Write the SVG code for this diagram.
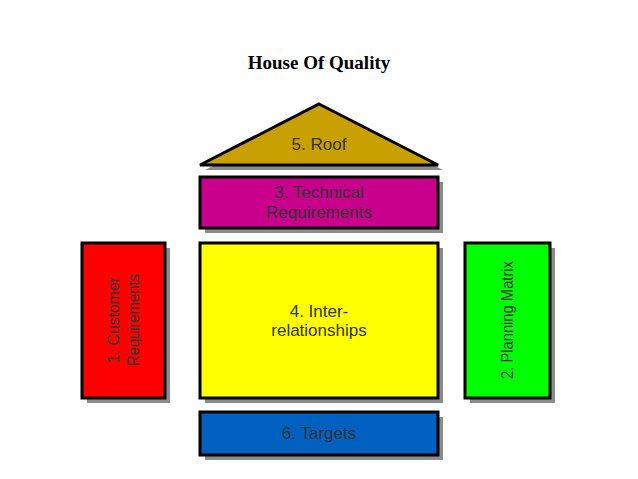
<svg xmlns="http://www.w3.org/2000/svg" width="638" height="479" viewBox="0 0 638 479">
<style>
.b{stroke:#000;stroke-width:3}
.s{fill:#8c8c8c}
.t{font-family:"Liberation Sans",Arial,sans-serif;font-size:17px;fill:#333;text-anchor:middle}
</style>
<rect width="638" height="479" fill="#fff"/>
<text x="319" y="69" font-family="Liberation Serif,serif" font-weight="bold" font-size="19" text-anchor="middle">House Of Quality</text>
<g id="roof"><polygon class="s" points="324,109 443,170 205,170"/><polygon class="b" fill="#c8a000" points="319,104 438,165 200,165"/><text class="t" x="319" y="150">5. Roof</text></g>
<g id="tech"><rect class="s" x="205" y="182" width="238" height="51"/><rect class="b" fill="#c8008c" x="200" y="177" width="238" height="51"/><text class="t" x="319" y="198">3. Technical</text><text class="t" x="319" y="218">Requirements</text></g>
<g id="customer"><rect class="s" x="87" y="248" width="83" height="155"/><rect class="b" fill="#ff0000" x="82" y="243" width="83" height="155"/><g transform="translate(123,320) rotate(-90)"><text class="t" x="0" y="-4" textLength="86" lengthAdjust="spacingAndGlyphs">1. Customer</text><text class="t" x="0" y="16" textLength="92" lengthAdjust="spacingAndGlyphs">Requirements</text></g></g>
<g id="inter"><rect class="s" x="205" y="248" width="238" height="155"/><rect class="b" fill="#ffff00" x="200" y="243" width="238" height="155"/><text class="t" x="319" y="317">4. Inter-</text><text class="t" x="319" y="336">relationships</text></g>
<g id="planning"><rect class="s" x="470" y="248" width="85" height="155"/><rect class="b" fill="#00ff00" x="465" y="243" width="85" height="155"/><g transform="translate(507,320) rotate(-90)"><text class="t" x="0" y="6" textLength="118" lengthAdjust="spacingAndGlyphs">2. Planning Matrix</text></g></g>
<g id="targets"><rect class="s" x="205" y="417" width="238" height="43"/><rect class="b" fill="#0060c0" x="200" y="412" width="238" height="43"/><text class="t" x="319" y="439">6. Targets</text></g>
<g id="connectors"/>
</svg>
